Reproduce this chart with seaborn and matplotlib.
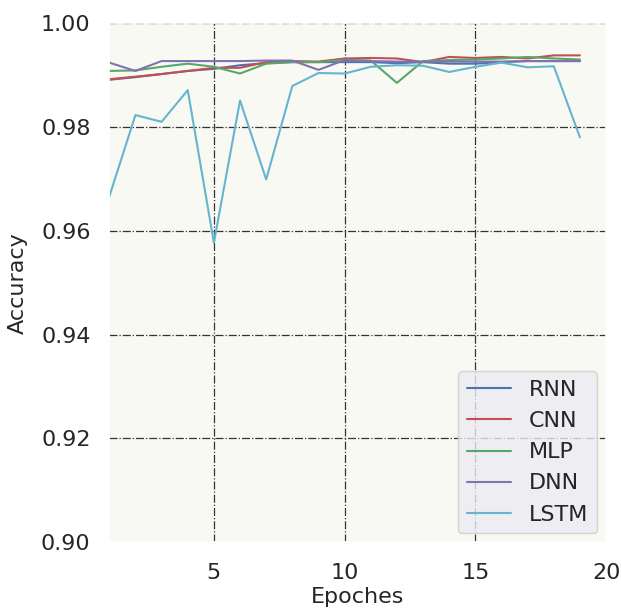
import numpy as np
import pandas as pd
import seaborn as sns
import matplotlib
matplotlib.use("Agg")
import matplotlib.pyplot as plt

epochs = list(range(1, 20))
rnn = [0.9891, 0.9896, 0.9902, 0.9908, 0.9912, 0.9919, 0.9923, 0.9925, 0.9925, 0.9925,
       0.9925, 0.9923, 0.9925, 0.9922, 0.9922, 0.9925, 0.9927, 0.9927, 0.9927]
cnn = [0.9892, 0.9897, 0.9902, 0.9908, 0.9914, 0.9914, 0.9925, 0.9927, 0.9926, 0.9932,
       0.9933, 0.9932, 0.9925, 0.9935, 0.9933, 0.9935, 0.9932, 0.9938, 0.9938]
mlp = [0.9908, 0.9909, 0.9916, 0.9922, 0.9916, 0.9903, 0.9922, 0.9925, 0.9925, 0.9929,
       0.9928, 0.9885, 0.9927, 0.9929, 0.9930, 0.9932, 0.9935, 0.9932, 0.9930]
dnn = [0.9924, 0.9908, 0.9927, 0.9927, 0.9927, 0.9927, 0.9928, 0.9928, 0.9910, 0.9929,
       0.9927, 0.9926, 0.9926, 0.9926, 0.9926, 0.9926, 0.9927, 0.9927, 0.9927]
lstm = [0.9666, 0.9823, 0.9810, 0.9871, 0.9577, 0.9851, 0.9699, 0.9879, 0.9904, 0.9903,
        0.9916, 0.9919, 0.9918, 0.9906, 0.9916, 0.9924, 0.9915, 0.9917, 0.9780]
models = ["RNN", "CNN", "MLP", "DNN", "LSTM"]
colors = ["#4C72B0", "#C44E52", "#55A868", "#8172B2", "#64B5CD"]

rows = []
for name, vals in zip(models, [rnn, cnn, mlp, dnn, lstm]):
    for e, v in zip(epochs, vals):
        rows.append({"Epoches": e, "Accuracy": v, "Model": name})
df = pd.DataFrame(rows)

sns.set_theme(style="darkgrid", rc={
    "axes.facecolor": "#f9f9f4",
    "grid.color": "#333333",
    "grid.linestyle": "-.",
    "grid.linewidth": 0.9,
})
plt.rcParams['font.family'] = ['DejaVu Sans']

fig = plt.figure(figsize=(6.21, 6.10), dpi=100)
ax = fig.add_axes([0.176, 0.111, 0.800, 0.851])
sns.lineplot(data=df, x="Epoches", y="Accuracy", hue="Model", hue_order=models,
             palette=colors, linewidth=1.5, ax=ax)
ax.set_xlim(1, 20)
ax.set_ylim(0.90, 1.00)
ax.set_xticks([5, 10, 15, 20])
ax.set_yticks([0.90, 0.92, 0.94, 0.96, 0.98, 1.00])
ax.tick_params(axis="x", labelsize=16, colors="#262626", pad=9)
ax.tick_params(axis="y", labelsize=16, colors="#262626", pad=7.5)
ax.set_xlabel("Epoches", fontsize=16, labelpad=3)
ax.set_ylabel("Accuracy", fontsize=16, labelpad=9.5)
leg = ax.legend(loc="lower right", fontsize=16, frameon=True, title=None,
                borderaxespad=0.4)
leg.get_frame().set_facecolor("#eaeaf2")
leg.get_frame().set_edgecolor("#cccccc")
fig.savefig("out.png", dpi=100)
